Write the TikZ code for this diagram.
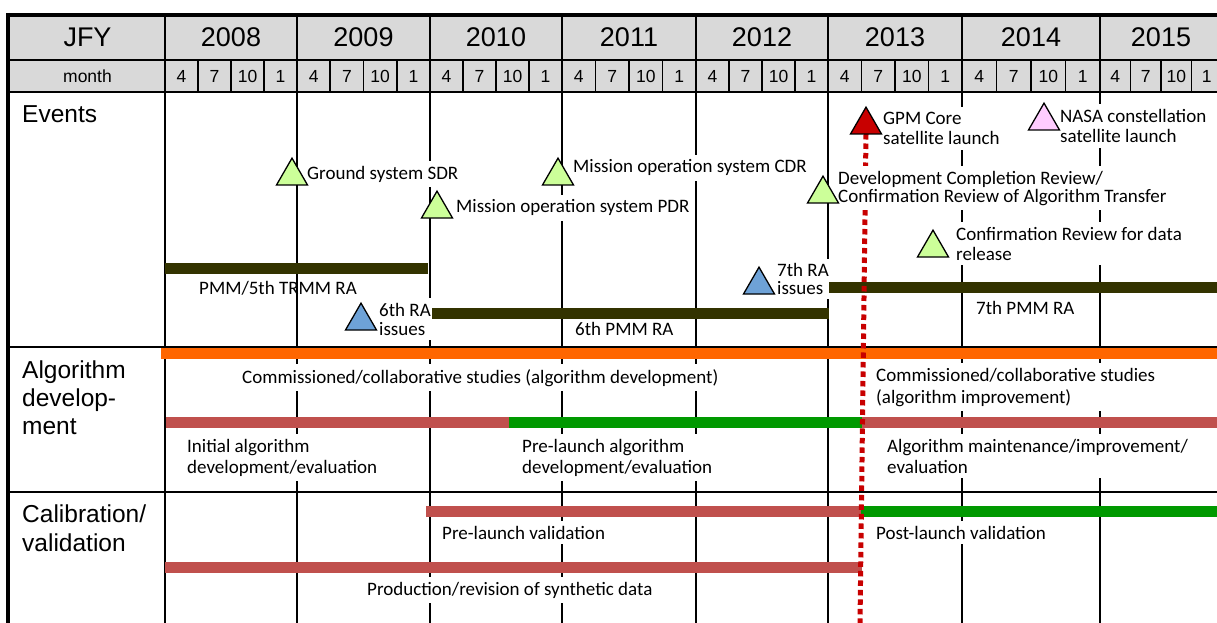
\documentclass[tikz,border=0pt]{standalone}
\usepackage{fontspec}
\setmainfont{Carlito}
\newfontfamily\arialfont{Liberation Sans}
\usetikzlibrary{shapes.geometric}
\definecolor{hdrgray}{RGB}{217,217,217}
\definecolor{olivebar}{RGB}{51,51,0}
\definecolor{orangebar}{RGB}{255,102,0}
\definecolor{brickbar}{RGB}{192,80,77}
\definecolor{greenbar}{RGB}{0,153,0}
\definecolor{lgreen}{RGB}{204,255,153}
\definecolor{lblue}{RGB}{110,162,215}
\definecolor{launchred}{RGB}{200,0,0}
\definecolor{lpink}{RGB}{255,204,255}
\newcommand\evfont{\fontsize{19}{20.5}\selectfont}
\newcommand\rowfont{\arialfont\fontsize{24.5}{28}\selectfont}
\begin{document}
\begin{tikzpicture}[x=1pt,y=-1pt,
  grid line/.style={line width=2pt},
  tri node/.style={regular polygon,regular polygon sides=3,draw,line width=1.3pt,minimum size=35.8pt,inner sep=0pt,outer sep=0pt,anchor=south},
  event label/.style={anchor=base west,align=left,fill=white,inner xsep=2pt,inner ysep=5pt,font=\evfont},
  bar line/.style={line width=11pt},
  row label/.style={anchor=base west,align=left,inner sep=0pt,font=\rowfont}]
\useasboundingbox (0,0) rectangle (1217,623);
% header
\fill[hdrgray] (8,15) rectangle (1217,92);
\begin{scope}[every node/.style={font=\arialfont\fontsize{27}{30}\selectfont}]
\node (jfy) at (87.5,37.5) {JFY};
\node[font=\arialfont\fontsize{17.5}{20}\selectfont] (month) at (87.5,76) {month};
\foreach \ys/\ye/\yr in {165/297/2008,297/430/2009,430/562/2010,562/696/2011,696/828/2012,828/962/2013,962/1100/2014,1100/1222/2015}{
  \node (y\yr) at ({(\ys+\ye)/2},37.5) {\yr};
  \foreach \q/\mo in {0/4,1/7,2/10,3/1}
    \node[font=\arialfont\fontsize{17.5}{20}\selectfont] (m\yr\q) at ({\ys+(\q+0.5)*(\ye-\ys)/4},76) {\mo};
  \foreach \q in {1,2,3}
    \draw[line width=1.6pt] ({\ys+\q*(\ye-\ys)/4},60) -- ({\ys+\q*(\ye-\ys)/4},92);
}
\end{scope}
% grid
\foreach \yl in {60,92,347,492}
  \draw[grid line] (8,\yl) -- (1217,\yl);
\foreach \xl in {165,297,430,562,696,828,962,1100}
  \draw[grid line] (\xl,15) -- (\xl,623);
\draw[line width=4pt] (6,15) -- (1217,15);
\draw[line width=4pt] (8,13) -- (8,623);
% row labels (base = last line)
\node[row label] (events) at (22,122) {Events};
\node[row label] (algdev) at (22,434) {Algorithm\\develop-\\ment};
\node[row label, font=\arialfont\fontsize{24.5}{29}\selectfont] (calval) at (22,551) {Calibration/\\validation};
% labels
\begin{scope}[every node/.style={event label}]
\node (sdr) at (305,179) {Ground system SDR};
\node (pdr) at (454,212.7) {Mission operation system PDR};
\node (cdr) at (571,172.7) {Mission operation system CDR};
\node (gpmlbl) at (881,144.5) {GPM Core\\satellite launch};
\node (nasalbl) at (1058,142.5) {NASA constellation\\satellite launch};
\node[font=\fontsize{19}{20}\selectfont] (crdlbl) at (954,260) {Confirmation Review for data\\release};
\node[font=\fontsize{19}{19}\selectfont] (ra6lbl) at (377,335) {6th RA\\issues};
\node[font=\fontsize{19}{17.5}\selectfont] (ra7lbl) at (775,294.2) {7th RA\\issues};
\node (pmm6lbl) at (573,335) {6th PMM RA};
\node (pmm7lbl) at (974,314) {7th PMM RA};
\node (comdev) at (240,383) {Commissioned/collaborative studies (algorithm development)};
\node[font=\fontsize{19}{22}\selectfont] (comimp) at (874,403) {Commissioned/collaborative studies\\(algorithm improvement)};
\node[font=\fontsize{19}{21}\selectfont] (initlbl) at (185,473) {Initial algorithm\\development/evaluation};
\node[font=\fontsize{19}{21}\selectfont] (prelbl) at (520,473) {Pre-launch algorithm\\development/evaluation};
\node[font=\fontsize{19}{21}\selectfont] (maintlbl) at (885,473) {Algorithm maintenance/improvement/\\evaluation};
\node (prevlbl) at (440,539) {Pre-launch validation};
\node (postvlbl) at (874,539) {Post-launch validation};
\node (synlbl) at (365,595) {Production/revision of synthetic data};
\node[fill=none] (pmm5lbl) at (197,294) {PMM/5th TRMM RA};
\end{scope}
% bars
\draw[bar line, olivebar] (165,268.5) -- (428,268.5);
\draw[bar line, olivebar] (432,313.5) -- (829,313.5);
\draw[bar line, olivebar] (829,287.5) -- (1217,287.5);
\draw[bar line, orangebar] (161,353.5) -- (1217,353.5);
\draw[bar line, brickbar] (166,422.5) -- (509,422.5);
\draw[bar line, greenbar] (509,422.5) -- (862,422.5);
\draw[bar line, brickbar] (862,422.5) -- (1217,422.5);
\draw[bar line, brickbar] (426,511.5) -- (861,511.5);
\draw[bar line, greenbar] (861,511.5) -- (1217,511.5);
\draw[bar line, brickbar] (165,567.5) -- (862,567.5);
% launch line
\coordinate (gpmbase) at (866,134);
\coordinate (gpmend) at (860,623);
\draw[launchred, line width=5pt, dash pattern=on 5.5pt off 4pt] (gpmbase) -- (gpmend);
\node[event label, font=\fontsize{19}{17.5}\selectfont] (dcrlbl) at (836,202) {Development Completion Review/\\Confirmation Review of Algorithm Transfer};
% events
\node[tri node, fill=lgreen] (sdrtri) at (292,185) {};
\node[tri node, fill=lgreen] (pdrtri) at (437,218) {};
\node[tri node, fill=lgreen] (cdrtri) at (558,185) {};
\node[tri node, fill=lgreen] (dcrtri) at (823,203) {};
\node[tri node, fill=lgreen] (crdtri) at (933,257) {};
\node[tri node, fill=lblue] (ra6tri) at (361,330) {};
\node[tri node, fill=lblue] (ra7tri) at (759,294) {};
\node[tri node, fill=launchred] (gpmtri) at (gpmbase) {};
\node[tri node, fill=lpink] (nasatri) at (1044,130) {};
\end{tikzpicture}
\end{document}
